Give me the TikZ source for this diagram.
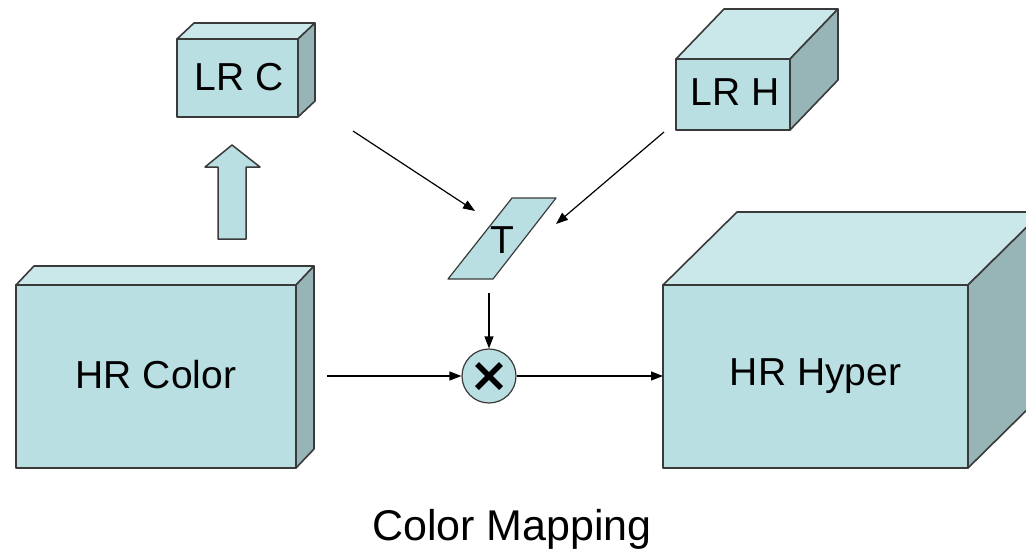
\documentclass[tikz,border=0pt]{standalone}
\usepackage{fontspec}
\setmainfont{Liberation Sans}
\usetikzlibrary{arrows.meta,calc}
\definecolor{frontc}{HTML}{BADFE3}
\definecolor{topc}{HTML}{CAE7EA}
\definecolor{sidec}{HTML}{97B4B7}
\definecolor{edgec}{HTML}{3A3A3A}
\newcommand\cuboidfaces[3]{%
  \draw[boxline, fill=topc] (#1.north west) -- ++(#2,#3) -- ($(#1.north east)+(#2,#3)$) -- (#1.north east) -- cycle;
  \draw[boxline, fill=sidec] (#1.north east) -- ++(#2,#3) -- ($(#1.south east)+(#2,#3)$) -- (#1.south east) -- cycle;
}
\begin{document}
\begin{tikzpicture}[x=1pt,y=-1pt,
  boxline/.style={draw=edgec, line width=1.6pt, line join=round},
  box/.style={boxline, fill=frontc, inner sep=0pt, outer sep=0pt},
  conn/.style={-{Triangle[length=12pt,width=9pt]}, line width=1.2pt},
  label/.style={font=\fontsize{39}{42}\selectfont}]
\useasboundingbox (0,0) rectangle (1026,550);
\clip (0,0) rectangle (1026,550);

% boxes
\node[box, minimum width=121pt, minimum height=78pt] (lrc) at (237.5,78) {};
\cuboidfaces{lrc}{17}{-16}
\node[label] at (239,77) {LR C};

\node[box, minimum width=114pt, minimum height=71pt] (lrh) at (733,94.5) {};
\cuboidfaces{lrh}{48}{-50}
\node[label] at (735,92) {LR H};

\node[box, minimum width=280pt, minimum height=183pt] (hrc) at (156,376.5) {};
\cuboidfaces{hrc}{18}{-19}
\node[label] at (156,375) {HR Color};

\node[box, minimum width=305pt, minimum height=183pt] (hrh) at (815.5,376.5) {};
\cuboidfaces{hrh}{74}{-73}
\node[label] at (hrh) {HR Hyper};

% up arrow
\draw[boxline, line width=1.5pt, fill=frontc] (232,145) -- (260,167) -- (246,167) -- (246,239) -- (218,239) -- (218,167) -- (205,167) -- cycle;

% T parallelogram
\draw[boxline, line width=1.2pt, fill=frontc] (512,198) -- (556,198) -- (493,279) -- (448,279) -- cycle;
\node[label] (t) at (502,240) {T};

% multiplier
\node[draw=edgec, line width=1.2pt, fill=frontc, circle, minimum size=54pt, inner sep=0pt] (mul) at (489,376) {};
\draw[line width=5.5pt] ($(mul)+(-12,-12)$) -- ($(mul)+(12,12)$);
\draw[line width=5.5pt] ($(mul)+(-12,12)$) -- ($(mul)+(12,-12)$);

% connectors
\coordinate (a1) at (353,131);
\coordinate (a1e) at (475,211);
\coordinate (a2) at (664,132);
\coordinate (a2e) at (556,224);
\coordinate (tb) at (489,293);
\coordinate (h1) at (327,376);
\draw[conn] (a1) -- (a1e);
\draw[conn] (a2) -- (a2e);
\draw[conn] (tb) -- (mul.north);
\draw[conn] (h1) -- (mul.west);
\draw[conn] (mul.east) -- (mul.east -| hrh.west);

\node[anchor=base, font=\fontsize{43}{46}\selectfont] (title) at (512,540) {Color Mapping};
\end{tikzpicture}
\end{document}
